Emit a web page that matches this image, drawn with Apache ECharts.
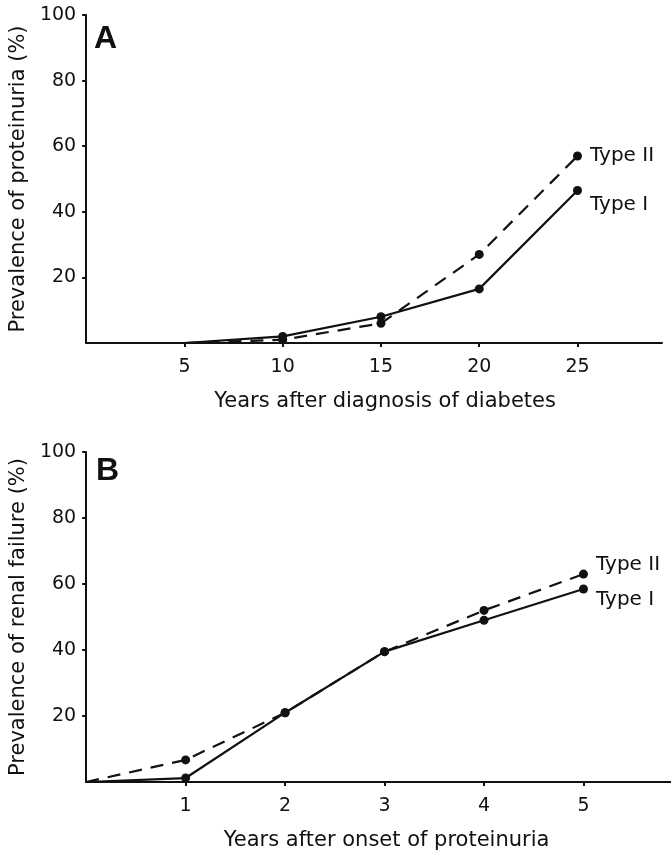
<!DOCTYPE html>
<html>
<head>
<meta charset="utf-8">
<script src="https://cdn.jsdelivr.net/npm/echarts@6/dist/echarts.min.js"></script>
<style>
  html, body { margin: 0; padding: 0; background: #fff; }
  #chart { width: 671px; height: 856px; }
</style>
</head>
<body>
<div id="chart"></div>
<script>
// Panel A: prevalence of proteinuria by years since diagnosis
const yearsA = [5, 10, 15, 20, 25];
const typeIA = [0, 2, 8, 16.5, 46.5];
const typeIIA = [0, 1, 6, 27, 57];

// Panel B: prevalence of renal failure by years since onset of proteinuria
const yearsB = [0, 1, 2, 3, 4, 5];
const typeIB = [0, 1.2, 21, 39.5, 49, 58.5];
const typeIIB = [0, 6.7, 21, 39.5, 52, 63];

// Tick labels
const yTicks = [20, 40, 60, 80, 100];
const xTicksA = [5, 10, 15, 20, 25];
const xTicksB = [1, 2, 3, 4, 5];

const FONT = "'DejaVu Sans', 'Liberation Sans', Arial, sans-serif";
const BOLD = "'Liberation Sans', Arial, sans-serif";
const INK = '#111';

// Build [x, y] points; the start point has no marker, the last carries the series name
function points(xs, ys, labelOffset) {
  return xs.map((x, i) => {
    const item = { value: [x, ys[i]] };
    if (i === 0) item.symbol = 'none';
    if (i === xs.length - 1) {
      item.label = {
        show: true, formatter: '{a}', position: 'right', distance: 8,
        offset: labelOffset, color: INK, fontSize: 20, fontFamily: FONT
      };
    }
    return item;
  });
}

function lineSeries(name, xs, ys, idx, dashed, labelOffset) {
  return {
    name, type: 'line', xAxisIndex: idx, yAxisIndex: idx,
    data: points(xs, ys, labelOffset),
    symbol: 'circle', symbolSize: 9, showSymbol: true,
    lineStyle: { color: INK, width: 2.2, type: dashed ? [13, 9] : 'solid' },
    itemStyle: { color: INK },
    silent: true, animation: false
  };
}

function yAxis(idx, title) {
  return {
    type: 'value', gridIndex: idx, min: 0, max: 100, interval: 20,
    name: title, nameLocation: 'middle', nameGap: 56,
    nameTextStyle: { color: INK, fontSize: 21, fontFamily: FONT },
    axisLine: { show: true, lineStyle: { color: INK, width: 2 } },
    axisTick: { show: true, length: 4, customValues: yTicks, lineStyle: { color: INK, width: 2 } },
    axisLabel: { customValues: yTicks, color: INK, fontSize: 19, fontFamily: FONT, margin: 10 },
    splitLine: { show: false }
  };
}

function xAxis(idx, max, ticks, title, shift) {
  return {
    type: 'value', gridIndex: idx, min: 0, max: max,
    name: title, nameLocation: 'middle', nameGap: 48,
    nameTextStyle: { color: INK, fontSize: 21, fontFamily: FONT, padding: [0, 0, 0, shift] },
    axisLine: { show: true, onZero: false, lineStyle: { color: INK, width: 2 } },
    axisTick: { show: true, length: 4, customValues: ticks, lineStyle: { color: INK, width: 2 } },
    axisLabel: { customValues: ticks, color: INK, fontSize: 19, fontFamily: FONT, margin: 15 },
    splitLine: { show: false }
  };
}

const chart = echarts.init(document.getElementById('chart'), null, { renderer: 'canvas' });
chart.setOption({
  backgroundColor: '#fff',
  animation: false,
  grid: [
    { left: 82, top: 15, width: 580, height: 328 },
    { left: 82, top: 452, width: 589, height: 330 }
  ],
  xAxis: [
    xAxis(0, 29.3, xTicksA, 'Years after diagnosis of diabetes', 22),
    xAxis(1, 5.88, xTicksB, 'Years after onset of proteinuria', 16)
  ],
  yAxis: [
    yAxis(0, 'Prevalence of proteinuria (%)'),
    yAxis(1, 'Prevalence of renal failure (%)')
  ],
  graphic: [
    { type: 'text', left: 94, top: 23, style: { text: 'A', fill: INK, font: "bold 32px " + BOLD } },
    { type: 'text', left: 96, top: 455, style: { text: 'B', fill: INK, font: "bold 32px " + BOLD } }
  ],
  series: [
    lineSeries('Type II', yearsA, typeIIA, 0, true, [0, 0]),
    lineSeries('Type I', yearsA, typeIA, 0, false, [0, 14]),
    lineSeries('Type II', yearsB, typeIIB, 1, true, [0, -9]),
    lineSeries('Type I', yearsB, typeIB, 1, false, [0, 11])
  ]
});
</script>
</body>
</html>
